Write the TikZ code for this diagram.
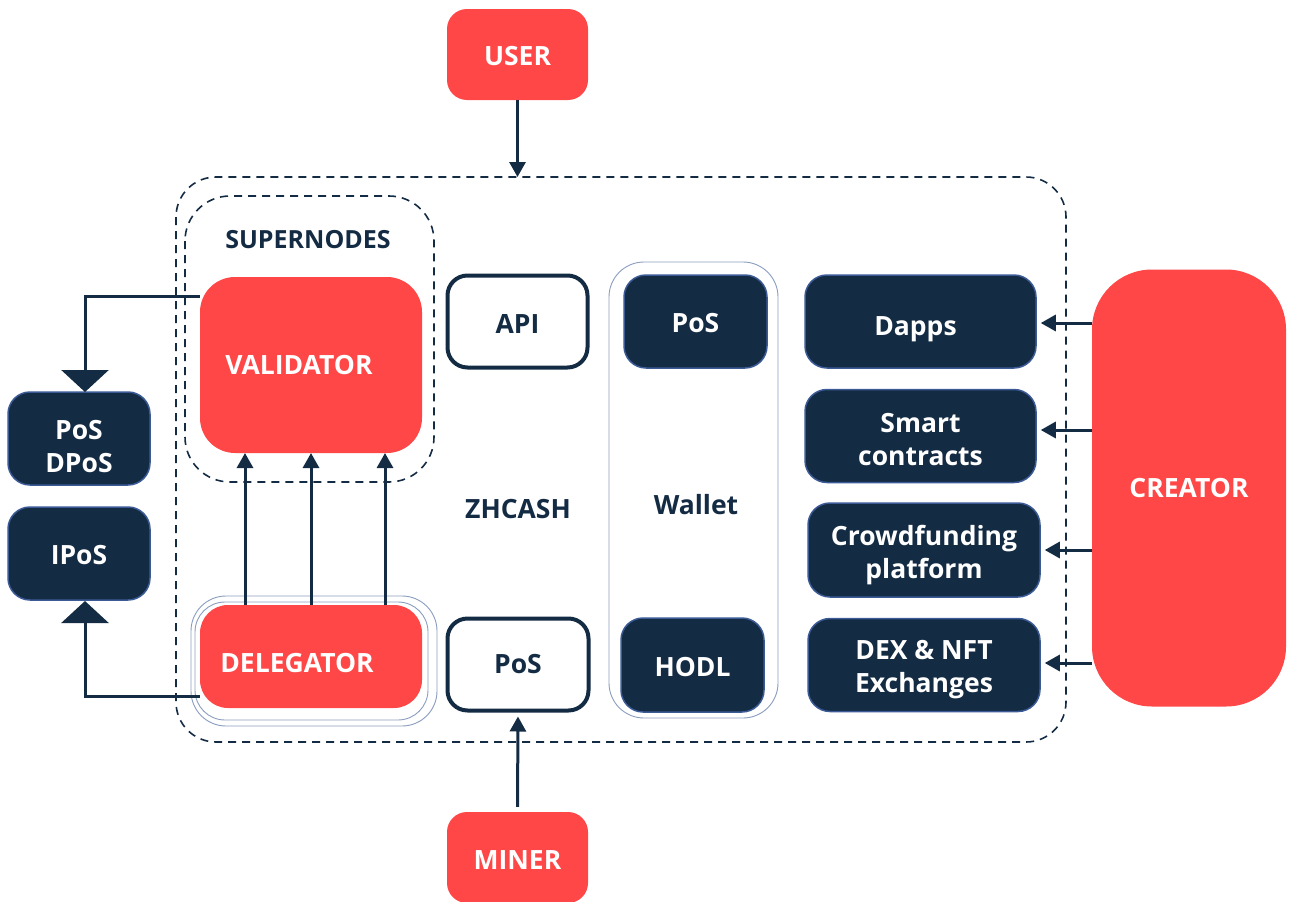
\documentclass[tikz,border=0pt]{standalone}
\usepackage{fontspec}
\setmainfont{Open Sans}
\usetikzlibrary{arrows.meta}
\definecolor{zred}{HTML}{FF4747}
\definecolor{znavy}{HTML}{142B44}
\definecolor{zborder}{HTML}{3B5A96}
\definecolor{zthin}{HTML}{8A9CBF}
% lower a line of text inside its node by half of #1
\newcommand\zdn[2]{\raisebox{0pt}[\dimexpr\height+#1\relax][\depth]{#2}}
\tikzset{
  lbl/.style={font=\fontsize{26.5}{33}\selectfont\bfseries, align=center},
  redbox/.style={lbl, fill=zred, text=white, draw=none, rounded corners=20pt, inner sep=0pt},
  navybox/.style={lbl, fill=znavy, text=white, draw=zborder, line width=1.5pt, rounded corners=22pt, inner sep=0pt},
  whitebox/.style={lbl, fill=white, text=znavy, draw=znavy, line width=4pt, rounded corners=20pt, inner sep=0pt},
  thinbox/.style={draw=zthin, line width=0.9pt, inner sep=0pt},
  conn/.style={draw=znavy, line width=3pt},
  arr/.style={conn, -{Triangle[width=16pt,length=15pt]}},
  bigarr/.style={conn, -{Triangle[width=47pt,length=22pt]}},
  dashline/.style={draw=znavy, line width=1.6pt, dash pattern=on 8pt off 6pt},
}
\begin{document}
\begin{tikzpicture}[x=1pt,y=-1pt]
\useasboundingbox (0,0) rectangle (1293,902);
% containers
\draw[dashline, rounded corners=40pt] (176,177) rectangle (1066,742);
\draw[dashline, rounded corners=45pt] (185,196) rectangle (434,482);
\node[lbl, text=znavy, font=\fontsize{25}{30}\selectfont\bfseries] (super) at (308,240) {SUPERNODES};
\node[thinbox, rounded corners=35pt, minimum width=169pt, minimum height=456pt] (wallet) at (693.5,490) {};
\node[thinbox, rounded corners=35pt, minimum width=246pt, minimum height=130pt] (dout1) at (314,661) {};
\node[thinbox, rounded corners=30pt, minimum width=233pt, minimum height=118pt] (dout2) at (311.5,661) {};
% red nodes
\node[redbox, minimum width=141pt, minimum height=91pt] (user) at (517.5,54.5) {\zdn{4pt}{USER}};
\node[redbox, minimum width=141pt, minimum height=91pt] (miner) at (517.5,857.5) {\zdn{6pt}{MINER}};
\node[redbox, rounded corners=35pt, minimum width=222pt, minimum height=176pt] (validator) at (311,365) {VALIDATOR\hspace{24pt}};
\node[redbox, rounded corners=28pt, minimum width=222pt, minimum height=103pt] (delegator) at (311,656.5) {\zdn{14pt}{DELEGATOR}\hspace{28pt}};
\node[redbox, rounded corners=60pt, minimum width=194pt, minimum height=437pt] (creator) at (1189,488) {CREATOR};
% navy nodes
\node[navybox, minimum width=142pt, minimum height=93pt] (posdpos) at (79,438.5) {\zdn{16pt}{PoS}\\DPoS};
\node[navybox, minimum width=142pt, minimum height=93pt] (ipos) at (79,553.5) {\zdn{4pt}{IPoS}};
\node[navybox, minimum width=143pt, minimum height=93pt] (wpos) at (695.5,321.5) {\zdn{4pt}{PoS}};
\node[navybox, minimum width=143pt, minimum height=94pt] (hodl) at (692.5,665) {\zdn{4pt}{HODL}};
\node[navybox, minimum width=231pt, minimum height=93pt] (dapps) at (920.5,321.5) {\zdn{16pt}{Dapps}\hspace{10pt}};
\node[navybox, minimum width=231pt, minimum height=93pt] (smart) at (920.5,436) {\zdn{8pt}{Smart}\\contracts};
\node[navybox, minimum width=232pt, minimum height=94pt] (crowd) at (924,550) {\zdn{10pt}{Crowdfunding}\\platform};
\node[navybox, minimum width=232pt, minimum height=93pt] (dex) at (924,665) {\zdn{10pt}{DEX \& NFT}\\Exchanges};
% white nodes
\node[whitebox, minimum width=140pt, minimum height=92pt] (api) at (517.5,321.5) {\zdn{5pt}{API}};
\node[whitebox, minimum width=141pt, minimum height=92pt] (zpos) at (518,664.5) {PoS};
% labels
\node[lbl, text=znavy] (zhcash) at (518,509) {ZHCASH};
\node[lbl, text=znavy] (wlabel) at (696,505) {Wallet};
% connector endpoints
\coordinate (outertop) at (517.5,177);
\coordinate (vleft) at (200,296);
\coordinate (dleft) at (200,696);
\coordinate (pdtop) at (85,392);
\coordinate (iptop) at (85,601);
% connectors
\draw[arr] (user.south) -- (outertop);
\draw[arr, shorten <=5pt, shorten >=4pt] (miner.north) -- (zpos.south);
\draw[bigarr] (vleft) -| (pdtop);
\draw[bigarr] (dleft) -| (iptop);
\foreach \xx in {245,311,385}{
  \coordinate (dtop\xx) at (\xx,605);
  \coordinate (vbot\xx) at (\xx,453);
  \draw[arr] (dtop\xx) -- (vbot\xx);
}
\foreach \tgt/\yy in {dapps/323,smart/430,crowd/550,dex/663}{
  \coordinate (cs\tgt) at (1092,\yy);
  \draw[arr, shorten >=4pt] (cs\tgt) -- (\tgt.east |- cs\tgt);
}
\end{tikzpicture}
\end{document}
